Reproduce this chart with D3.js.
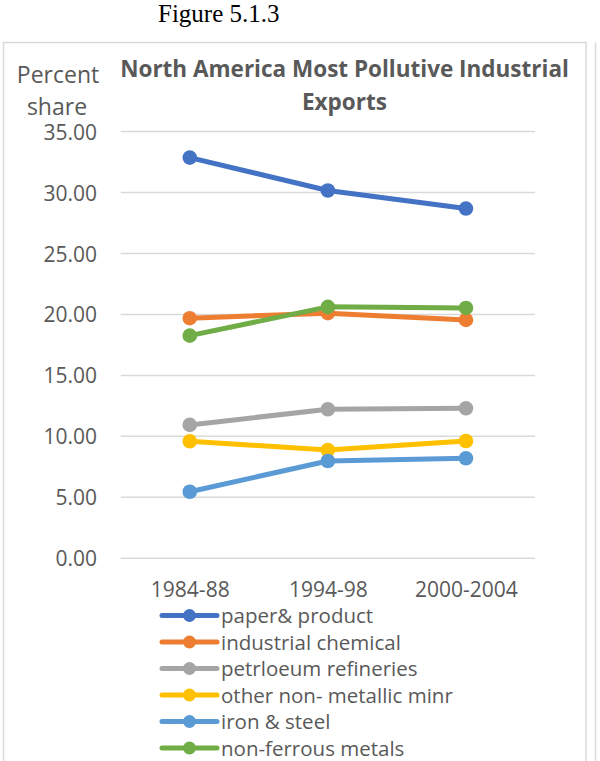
<!DOCTYPE html>
<html>
<head>
<meta charset="utf-8">
<script src="https://cdn.jsdelivr.net/npm/d3@7"></script>
<style>
  html, body { margin: 0; padding: 0; background: #fff; }
  svg { display: block; }
  .lbl { font-family: "Open Sans", sans-serif; fill: #595959; }
</style>
</head>
<body>
<svg id="chart" width="600" height="761"></svg>
<script>
// Periods on the category axis
const periods = ["1984-88", "1994-98", "2000-2004"];

// Industry series (percent share of exports)
const seriesNames = [
  "paper& product",
  "industrial chemical",
  "petrloeum refineries",
  "other non- metallic minr",
  "iron & steel",
  "non-ferrous metals"
];
const paperProduct     = [32.86, 30.16, 28.68];
const industrialChem   = [19.69, 20.10, 19.55];
const petroleumRef     = [10.94, 12.22, 12.30];
const otherNonMetallic = [9.60, 8.88, 9.62];
const ironSteel        = [5.46, 7.98, 8.20];
const nonFerrous       = [18.26, 20.62, 20.53];

const yTicks = [0, 5, 10, 15, 20, 25, 30, 35];
const colors = ["#4472C4", "#ED7D31", "#A5A5A5", "#FFC000", "#5B9BD5", "#70AD47"];

const series = [paperProduct, industrialChem, petroleumRef, otherNonMetallic, ironSteel, nonFerrous]
  .map((vals, i) => ({ name: seriesNames[i], color: colors[i], values: vals }));

const svg = d3.select("#chart");

// Figure caption above the chart frame
svg.append("text")
  .attr("x", 158).attr("y", 22)
  .attr("font-family", "'Liberation Serif', 'Times New Roman', serif")
  .attr("font-size", 25)
  .attr("fill", "#000")
  .text("Figure 5.1.3");

// Chart frame and the edge of the neighbouring frame
svg.append("rect")
  .attr("x", 3.5).attr("y", 42.5)
  .attr("width", 582.5).attr("height", 740)
  .attr("fill", "#fff").attr("stroke", "#d9d9d9").attr("stroke-width", 1.5);
svg.append("line")
  .attr("x1", 595.5).attr("x2", 595.5).attr("y1", 42.5).attr("y2", 761)
  .attr("stroke", "#d9d9d9").attr("stroke-width", 1.5);

// Scales
const x = d3.scalePoint().domain(periods).range([120.7, 535]).padding(0.5);
const y = d3.scaleLinear().domain([0, 35]).range([558.3, 131.5]);

// Gridlines
svg.append("g")
  .selectAll("line")
  .data(yTicks)
  .join("line")
  .attr("x1", 120.7).attr("x2", 535)
  .attr("y1", d => y(d)).attr("y2", d => y(d))
  .attr("stroke", "#d9d9d9").attr("stroke-width", 1.5);

// Y axis labels
const yAxis = d3.axisLeft(y).tickValues(yTicks).tickFormat(d3.format(".2f")).tickSize(0).tickPadding(0);
const gy = svg.append("g").attr("transform", "translate(97,0)").call(yAxis);
gy.select(".domain").remove();
gy.selectAll("text")
  .attr("class", "lbl")
  .attr("font-size", 21)
  .attr("fill", "#595959")
  .attr("dy", "0.36em");

// X axis labels
const xAxis = d3.axisBottom(x).tickSize(0).tickPadding(0);
const gx = svg.append("g").attr("transform", "translate(0,597)").call(xAxis);
gx.select(".domain").remove();
gx.selectAll("text")
  .attr("class", "lbl")
  .attr("font-size", 21)
  .attr("fill", "#595959")
  .attr("dy", 0);

// Axis title
const yt = svg.append("text").attr("class", "lbl")
  .attr("text-anchor", "middle").attr("font-size", 23);
yt.append("tspan").attr("x", 58).attr("y", 83).text("Percent");
yt.append("tspan").attr("x", 57).attr("y", 115).text("share");

// Chart title
const tt = svg.append("text").attr("class", "lbl")
  .attr("text-anchor", "middle").attr("font-size", 22.5).attr("font-weight", "bold");
tt.append("tspan").attr("x", 344.5).attr("y", 77).text("North America Most Pollutive Industrial");
tt.append("tspan").attr("x", 344.5).attr("y", 110).text("Exports");

// Lines and markers
const line = d3.line().x((d, i) => x(periods[i])).y(d => y(d));
const gs = svg.append("g").selectAll("g").data(series).join("g");
gs.append("path")
  .attr("d", d => line(d.values))
  .attr("fill", "none")
  .attr("stroke", d => d.color)
  .attr("stroke-width", 5)
  .attr("stroke-linejoin", "round")
  .attr("stroke-linecap", "round");
gs.selectAll("circle")
  .data(d => d.values.map((v, i) => ({ v, i, color: d.color })))
  .join("circle")
  .attr("cx", d => x(periods[d.i]))
  .attr("cy", d => y(d.v))
  .attr("r", 7.3)
  .attr("fill", d => d.color);

// Legend
const legendTop = 615.5, legendStep = 26.5;
const lg = svg.append("g").selectAll("g").data(series).join("g")
  .attr("transform", (d, i) => `translate(0,${legendTop + i * legendStep})`);
lg.append("line")
  .attr("x1", 162).attr("x2", 217).attr("y1", 0).attr("y2", 0)
  .attr("stroke", d => d.color).attr("stroke-width", 5).attr("stroke-linecap", "round");
lg.append("circle")
  .attr("cx", 189.5).attr("cy", 0).attr("r", 6.5)
  .attr("fill", d => d.color);
lg.append("text")
  .attr("class", "lbl")
  .attr("x", 221).attr("y", 7.5)
  .attr("font-size", 20.5)
  .text(d => d.name);
</script>
</body>
</html>
